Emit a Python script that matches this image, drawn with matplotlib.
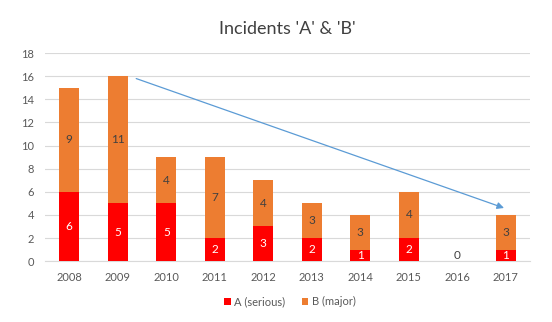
import numpy as np
import matplotlib
matplotlib.use('Agg')
import matplotlib.pyplot as plt

plt.rcParams['font.family'] = ['Lato', 'DejaVu Sans']

years = ['2008', '2009', '2010', '2011', '2012', '2013', '2014', '2015', '2016', '2017']
serious = [6, 5, 5, 2, 3, 2, 1, 2, 0, 1]
major = [9, 11, 4, 7, 4, 3, 3, 4, 0, 3]

red = '#FF0000'
orange = '#ED7D31'
grey = '#595959'

fig = plt.figure(figsize=(5.52, 3.22), dpi=100)
ax = fig.add_axes([0.0815, 0.189, 0.879, 0.646])

x = np.arange(len(years))
w = 0.41
bars_a = ax.bar(x, serious, w, color=red, label='A (serious)', zorder=3)
bars_b = ax.bar(x, major, w, bottom=serious, color=orange, label='B (major)', zorder=3)

# value labels in the middle of each segment
for i in range(len(years)):
    if serious[i] > 0:
        ax.text(x[i], serious[i] / 2, str(serious[i]), ha='center', va='center',
                color='white', fontsize=8.5, zorder=4)
    if major[i] > 0:
        ax.text(x[i], serious[i] + major[i] / 2, str(major[i]), ha='center', va='center',
                color='#404040', fontsize=8.5, zorder=4)
    if serious[i] + major[i] == 0:
        ax.text(x[i], 0.05, '0', ha='center', va='bottom', color='#404040', fontsize=8.5, zorder=4)

# trend arrow from 2009 peak down to 2017
ax.annotate('', xy=(8.96, 4.6), xytext=(1.38, 15.8),
            arrowprops=dict(arrowstyle='-|>', color='#5B9BD5', lw=0.9,
                            mutation_scale=10, shrinkA=0, shrinkB=0), zorder=5)

ax.set_xlim(-0.5, len(years) - 0.5)
ax.set_ylim(0, 18)
ax.set_yticks(range(0, 19, 2))
ax.set_xticks(x)
ax.set_xticklabels(years)
ax.tick_params(axis='both', length=0, colors=grey, labelsize=8)
ax.tick_params(axis='x', pad=8)
ax.tick_params(axis='y', pad=8)
ax.yaxis.grid(True, color='#D9D9D9', lw=0.8, zorder=0)
for s in ax.spines.values():
    s.set_visible(False)
ax.spines['bottom'].set_visible(True)
ax.spines['bottom'].set_color('#D9D9D9')

fig.text(0.52, 0.91, "Incidents 'A' & 'B'", ha='center', va='center', fontsize=13, color='#404040')

fig.legend(handles=[bars_a, bars_b], loc='center', bbox_to_anchor=(0.525, 0.063), ncol=2,
           frameon=False, fontsize=8, handlelength=0.6, handleheight=0.6,
           handletextpad=0.3, columnspacing=1.5, labelcolor=grey)

fig.savefig('out.png', dpi=100, facecolor='white')
